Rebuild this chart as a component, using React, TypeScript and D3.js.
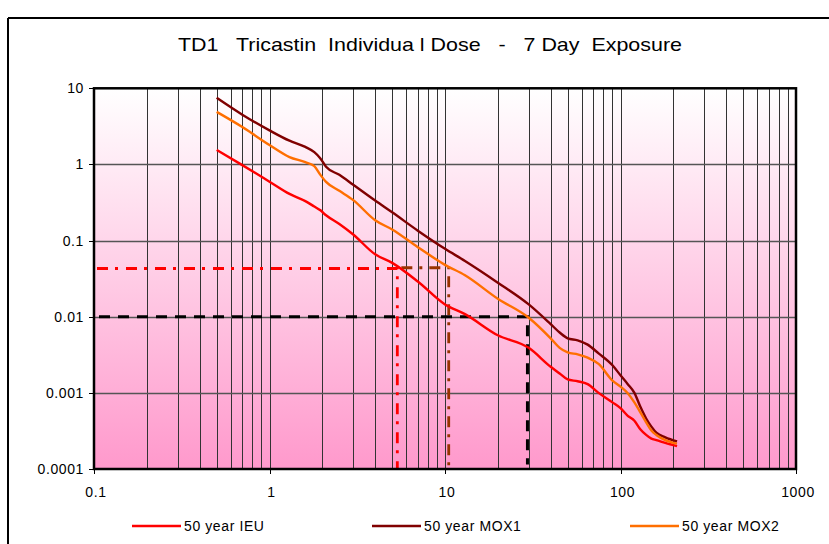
import React from "react";
import * as d3 from "d3";

const xValues = [0.5, 0.7, 1, 1.3, 1.6, 1.8, 1.95, 2.1, 2.5, 3, 4, 5, 7, 10, 13, 20, 30, 40, 45, 50, 57, 65, 75, 90, 100, 110, 120, 130, 140, 150, 160, 180, 210];
const ieu = [1.55, 0.98, 0.594, 0.41, 0.33, 0.28, 0.25, 0.215, 0.165, 0.12, 0.066, 0.051, 0.029, 0.0145, 0.0108, 0.0057, 0.0039, 0.0022, 0.0018, 0.0015, 0.00142, 0.0013, 0.001, 0.00075, 0.00063, 0.0005, 0.00043, 0.00033, 0.00028, 0.00025, 0.00024, 0.00022, 0.0002];
const mox1 = [7.5, 4.5, 2.8, 2.05, 1.7, 1.45, 1.2, 0.93, 0.73, 0.54, 0.335, 0.235, 0.135, 0.078, 0.054, 0.028, 0.0145, 0.008, 0.0062, 0.0052, 0.0049, 0.0043, 0.0033, 0.0023, 0.0017, 0.0013, 0.001, 0.00065, 0.00046, 0.00036, 0.0003, 0.00026, 0.00023];
const mox2 = [4.9, 3.1, 1.8, 1.25, 1.07, 0.95, 0.73, 0.59, 0.45, 0.34, 0.185, 0.14, 0.082, 0.048, 0.035, 0.0172, 0.0097, 0.0052, 0.0039, 0.0034, 0.0032, 0.0029, 0.0024, 0.00145, 0.00121, 0.00099, 0.00075, 0.00055, 0.00041, 0.00032, 0.00028, 0.00024, 0.000215];

const seriesNames = ["50 year IEU", "50 year MOX1", "50 year MOX2"];
const seriesColors = ["#ff0000", "#800000", "#ff6f00"];
const seriesData = [ieu, mox1, mox2];

const xTickLabels = ["0.1", "1", "10", "100", "1000"];
const xTicks = [0.1, 1, 10, 100, 1000];
const yTickLabels = ["10", "1", "0.1", "0.01", "0.001", "0.0001"];
const yTicks = [10, 1, 0.1, 0.01, 0.001, 0.0001];

// reference (read-off) lines
const ieuRef = { x: 5.35, y: 0.043 };
const mox2Ref = { x: 10.5, y: 0.044, yEnd: 0.00011 };
const blackRef = { x: 29.5, y: 0.01, yEnd: 0.000115 };

const title = "TD1   Tricastin  Individua l Dose   -   7 Day  Exposure";

export default function App() {
  const W = 829, H = 544;
  const L = 94, R = 796, T = 88.3, B = 469;
  const x = d3.scaleLog().domain([0.1, 1000]).range([L, R]);
  const y = d3.scaleLog().domain([0.0001, 10]).range([B, T]);
  const snap = (v: number) => Math.round(v) + 0.5;

  const line = d3
    .line<[number, number]>()
    .x((d) => x(d[0]))
    .y((d) => y(d[1]))
    .curve(d3.curveMonotoneX);

  const vGrid: number[] = [];
  [0.1, 1, 10, 100].forEach((dec) => {
    for (let k = 1; k <= 9; k++) {
      const v = k * dec;
      if (v > 0.1 + 1e-9) vGrid.push(v);
    }
  });
  const hGrid = [1, 0.1, 0.01, 0.001];

  const font = "'Liberation Sans', Arial, sans-serif";

  return (
    <svg width={W} height={H} style={{ position: "absolute", left: 0, top: 0 }} fontFamily={font}>
      <defs>
        <linearGradient id="bg" x1="0" y1="0" x2="0" y2="1">
          <stop offset="0%" stopColor="#ffffff" />
          <stop offset="100%" stopColor="#ff99cc" />
        </linearGradient>
      </defs>
      <rect x={0} y={0} width={W} height={H} fill="#ffffff" />
      {/* outer chart frame */}
      <line x1={8} y1={18} x2={W} y2={18} stroke="#000" strokeWidth={2} />
      <line x1={8} y1={18} x2={8} y2={H} stroke="#000" strokeWidth={2} />

      <text x={430} y={51} textAnchor="middle" fontSize={19} textLength={504} lengthAdjust="spacingAndGlyphs" style={{ whiteSpace: "pre" }}>
        {title}
      </text>

      <rect x={L} y={T} width={R - L} height={B - T} fill="url(#bg)" />

      {vGrid.map((v, i) => (
        <line key={"v" + i} x1={snap(x(v))} x2={snap(x(v))} y1={T} y2={B} stroke="#333333" strokeWidth={1} />
      ))}
      {hGrid.map((v, i) => (
        <line key={"h" + i} x1={L} x2={R} y1={snap(y(v))} y2={snap(y(v))} stroke="#555555" strokeWidth={1.5} />
      ))}

      {/* reference lines */}
      <path
        d={`M${x(ieuRef.x) + 2},${y(mox2Ref.y)}H${x(mox2Ref.x)}V${y(mox2Ref.yEnd)}`}
        fill="none"
        stroke="#993300"
        strokeWidth={2.8}
        strokeDasharray="11 7 3 7"
        strokeDashoffset={-2}
      />
      <path
        d={`M${x(0.1)},${y(ieuRef.y)}H${x(ieuRef.x)}V${B}`}
        fill="none"
        stroke="#ff0000"
        strokeWidth={2.8}
        strokeDasharray="11 7 3 8"
        strokeDashoffset={-3}
      />
      <path
        d={`M${x(0.1)},${y(blackRef.y)}H${x(blackRef.x)}V${y(blackRef.yEnd)}`}
        fill="none"
        stroke="#000000"
        strokeWidth={3}
        strokeDasharray="11 8"
        strokeDashoffset={-5}
      />

      {seriesData.map((s, i) => (
        <path
          key={"s" + i}
          d={line(xValues.map((xv, j) => [xv, s[j]] as [number, number])) || ""}
          fill="none"
          stroke={seriesColors[i]}
          strokeWidth={2.4}
          strokeLinejoin="round"
        />
      ))}

      {/* plot border */}
      <rect x={L} y={T} width={R - L} height={B - T} fill="none" stroke="#000" strokeWidth={2.5} />

      {/* y axis */}
      {yTicks.map((v, i) => (
        <g key={"yt" + i}>
          <line x1={L - 5} x2={L} y1={snap(y(v))} y2={snap(y(v))} stroke="#000" strokeWidth={1} />
          <text x={84} y={y(v) + 5} textAnchor="end" fontSize={14} letterSpacing={0.6}>
            {yTickLabels[i]}
          </text>
        </g>
      ))}
      {/* x axis */}
      {xTicks.map((v, i) => (
        <g key={"xt" + i}>
          <line x1={snap(x(v))} x2={snap(x(v))} y1={B} y2={B + 5} stroke="#000" strokeWidth={1} />
          <text x={x(v) + 2} y={497} textAnchor="middle" fontSize={14} letterSpacing={0.6}>
            {xTickLabels[i]}
          </text>
        </g>
      ))}

      {/* legend */}
      {seriesNames.map((name, i) => {
        const lx = [132, 372, 630][i];
        return (
          <g key={"lg" + i}>
            <line x1={lx} x2={lx + 49} y1={526} y2={526} stroke={seriesColors[i]} strokeWidth={2.5} />
            <text x={lx + 52} y={531} fontSize={14} letterSpacing={0.6}>
              {name}
            </text>
          </g>
        );
      })}
    </svg>
  );
}
